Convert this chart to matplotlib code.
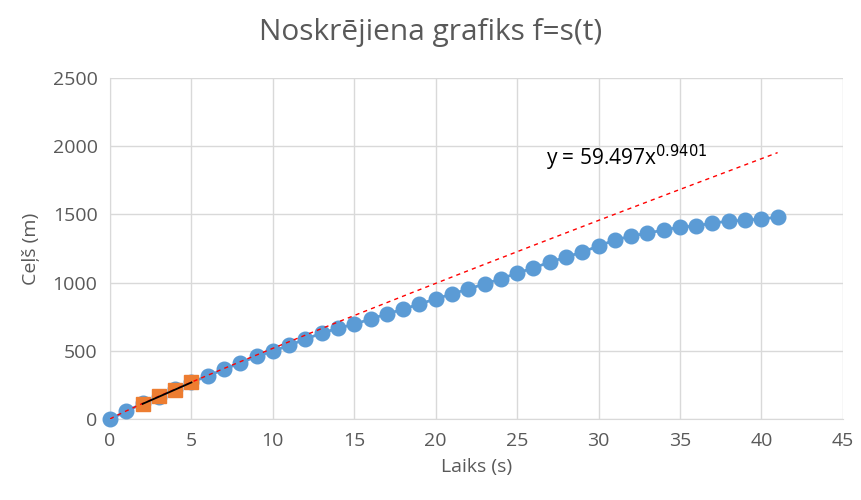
import matplotlib
matplotlib.use("Agg")
import matplotlib.pyplot as plt
import numpy as np

plt.rcParams['font.family'] = ['Open Sans', 'DejaVu Sans']

time_s = list(range(0, 42))
distance_m = [0, 55, 115, 160, 220, 270, 315, 365, 410, 460,
              497, 540, 585, 630, 665, 695, 733, 770, 805, 843,
              880, 917, 953, 990, 1027, 1070, 1107, 1150, 1187, 1224,
              1268, 1312, 1341, 1363, 1385, 1407, 1415, 1437, 1450, 1458,
              1466, 1480]
orange_t = [2, 3, 4, 5]
orange_s = [110, 165, 215, 268]
fit_a = 59.497
fit_b = 0.9401
title = "Noskrējiena grafiks f=s(t)"
xlabel = "Laiks (s)"
ylabel = "Ceļš (m)"
eq_text = r"y = 59.497x$^{0.9401}$"

fig = plt.figure(figsize=(8.61, 5.0), dpi=100)
ax = fig.add_axes([0.1278, 0.162, 0.851, 0.682])

gray = "#595959"
ax.plot(time_s, distance_m, color="#5B9BD5", marker="o", markersize=10.5, lw=2,
        zorder=3, clip_on=False)
ax.plot(orange_t, orange_s, color="#ED7D31", marker="s", markersize=10, lw=0, zorder=4)
coef = np.polyfit(orange_t, orange_s, 1)
ot = np.array([orange_t[0], orange_t[-1]])
ax.plot(ot, np.polyval(coef, ot), color="black", lw=1.3, zorder=5)

tt = np.linspace(0, max(time_s), 300)
ax.plot(tt, fit_a * tt ** fit_b, color="#FF0000", lw=1, ls=(0, (3, 3)), zorder=4)
ax.text(26.8, 1915, eq_text, fontsize=15, color="black", va="center", ha="left")

ax.set_xlim(0, 45)
ax.set_ylim(0, 2500)
ax.set_xticks(range(0, 46, 5))
ax.set_yticks(range(0, 2501, 500))
ax.grid(True, color="#D9D9D9", lw=1)
ax.set_axisbelow(True)
for s in ["top", "right"]:
    ax.spines[s].set_visible(False)
ax.spines["left"].set_color("#D9D9D9")
ax.spines["bottom"].set_color("#D9D9D9")
ax.tick_params(length=0, labelsize=14, labelcolor=gray, pad=9)
ax.set_xlabel(xlabel, fontsize=14, color=gray, labelpad=6)
ax.set_ylabel(ylabel, fontsize=14, color=gray, labelpad=9)
fig.text(0.5, 0.935, title, ha="center", va="center", fontsize=21.5, color=gray)

fig.savefig("out.png", dpi=100)
